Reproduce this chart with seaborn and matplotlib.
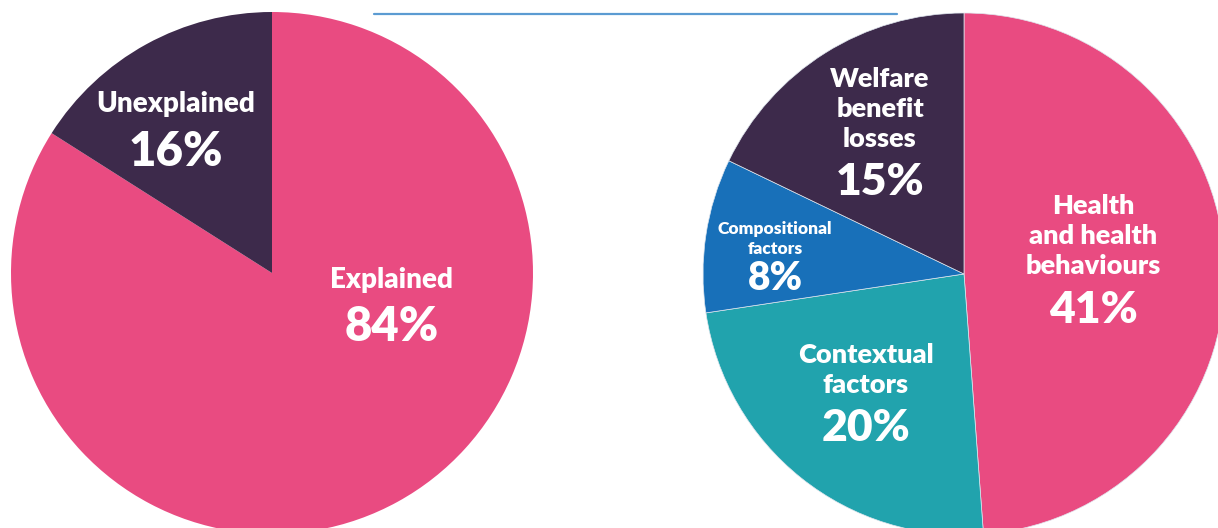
import matplotlib
matplotlib.use("Agg")
import matplotlib.pyplot as plt
import seaborn as sns

# ─── Data ────────────────────────────────────────────────────────────────────
left_labels = ["Explained", "Unexplained"]
left_values = [84, 16]

right_labels = ["Health\nand health\nbehaviours", "Contextual\nfactors",
                "Compositional\nfactors", "Welfare\nbenefit\nlosses"]
right_values = [41, 20, 8, 15]

# ─── Style ───────────────────────────────────────────────────────────────────
PINK, PURPLE, TEAL, BLUE = "#E94B81", "#3D2A4B", "#21A3AD", "#1870B9"
left_colors = [PINK, PURPLE]
right_colors = [PINK, TEAL, BLUE, PURPLE]

W, H = 1218, 528
R = 261
left_center = (272, H - 273)
right_center = (964, H - 274)

# label anchor offsets (pixels from pie centre: name centre, pct centre), sizes
left_text = [((120, -7), (120, -54), 20, 34),
             ((-96, 169), (-96, 121), 20, 34)]
right_text = [((129, 38), (129, -36), 19.5, 32),
              ((-98, -96), (-98, -154), 19.5, 32),
              ((-189, 35), (-189, -4), 12.5, 28),
              ((-84, 165), (-84, 92), 19.5, 32)]

sns.set_theme(style="white")
plt.rcParams["font.family"] = ["Lato", "DejaVu Sans"]

fig = plt.figure(figsize=(W / 100, H / 100), dpi=100)
ax = fig.add_axes([0, 0, 1, 1])


def draw_pie(values, labels, colors, center, text_pos, edge):
    ax.pie(values, colors=colors, startangle=90, counterclock=False,
           center=center, radius=R,
           wedgeprops=dict(linewidth=edge, edgecolor="#dfe6ee"))
    for val, lab, (npos, ppos, nsize, psize) in zip(values, labels, text_pos):
        ax.text(center[0] + npos[0], center[1] + npos[1], lab,
                ha="center", va="center", color="white", fontsize=nsize,
                fontweight="heavy", linespacing=1.28)
        ax.text(center[0] + ppos[0], center[1] + ppos[1], f"{val}%",
                ha="center", va="center", color="white", fontsize=psize,
                fontweight="heavy")


draw_pie(left_values, left_labels, left_colors, left_center, left_text, 0)
draw_pie(right_values, right_labels, right_colors, right_center, right_text, 0.5)

# thin rule across the top
ax.plot([374, 897], [H - 14, H - 14], color="#5B9BD2", linewidth=1.6)

ax.set_xlim(0, W)
ax.set_ylim(0, H)
ax.set_aspect("equal")
ax.axis("off")

fig.savefig("out.png", dpi=100)
plt.close(fig)
